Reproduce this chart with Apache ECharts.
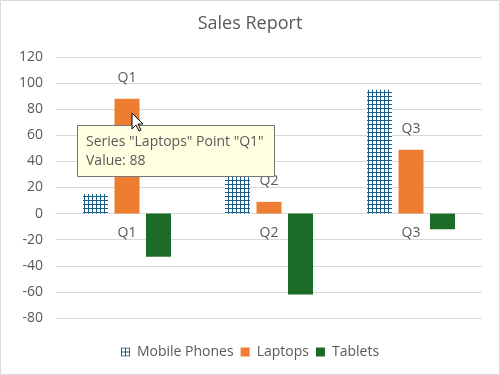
<!DOCTYPE html>
<html>
<head>
<meta charset="utf-8">
<script src="https://cdn.jsdelivr.net/npm/echarts@6/dist/echarts.min.js"></script>
<style>
html,body{margin:0;padding:0;background:#fff;}
#chart{width:500px;height:375px;}
</style>
</head>
<body>
<div id="chart"></div>
<script>
const title = 'Sales Report';
const categories = ['Q1', 'Q2', 'Q3'];
const mobilePhones = [15, 30, 95];
const laptops = [88, 9, 49];
const tablets = [-33, -62, -12];
const yTicks = { min: -80, max: 120, interval: 20 };
const tipSeries = 'Laptops';
const tipIndex = 0;

const FONT = "'Segoe UI', 'Open Sans', sans-serif";
const TEXT = '#595959';
const BLUE = '#1b5f89';
const GRID = { left: 56, right: 18, top: 57, bottom: 57 };
const H = 375, W = 500;
const plotH = H - GRID.top - GRID.bottom;
const zeroOffset = -((0 - yTicks.min) / (yTicks.max - yTicks.min)) * plotH;

function gridPattern() {
  const c = document.createElement('canvas');
  c.width = 4; c.height = 4;
  const g = c.getContext('2d');
  g.fillStyle = '#ffffff';
  g.fillRect(0, 0, 4, 4);
  g.fillStyle = BLUE;
  g.fillRect(0, 0, 1, 4);
  g.fillRect(0, 0, 4, 1);
  return c;
}
const pat = { image: gridPattern(), repeat: 'repeat' };

const chart = echarts.init(document.getElementById('chart'), null, { renderer: 'canvas' });

const tipText = 'Series "' + tipSeries + '" Point "' + categories[tipIndex] + '"\nValue: ' + laptops[tipIndex];

chart.setOption({
  animation: false,
  textStyle: { fontFamily: FONT },
  title: {
    text: title, left: 'center', top: 10,
    textStyle: { fontFamily: FONT, fontSize: 18, fontWeight: 'normal', color: TEXT }
  },
  legend: {
    bottom: 11, left: 'center',
    itemWidth: 9, itemHeight: 9, itemGap: 7,
    textStyle: { fontFamily: FONT, fontSize: 14, color: TEXT, padding: [0, 0, 0, 2] },
    data: [
      { name: 'Mobile Phones', icon: 'rect' },
      { name: 'Laptops', icon: 'rect' },
      { name: 'Tablets', icon: 'rect' }
    ]
  },
  grid: { left: GRID.left, right: GRID.right, top: GRID.top, bottom: GRID.bottom, containLabel: false },
  xAxis: {
    type: 'category', data: categories,
    offset: zeroOffset,
    axisLine: { onZero: false, lineStyle: { color: '#d9d9d9', width: 1 } },
    axisTick: { show: false },
    axisLabel: { color: TEXT, fontSize: 14, fontFamily: FONT, margin: 12 },
    z: 1
  },
  yAxis: {
    type: 'value', min: yTicks.min, max: yTicks.max, interval: yTicks.interval,
    axisLine: { show: false }, axisTick: { show: false },
    axisLabel: { color: TEXT, fontSize: 14, fontFamily: FONT, margin: 13 },
    splitLine: { lineStyle: { color: '#d9d9d9', width: 1 } }
  },
  series: [
    {
      name: 'Mobile Phones', type: 'bar', data: mobilePhones,
      barWidth: 25, barGap: '26%',
      itemStyle: { color: pat }
    },
    {
      name: 'Laptops', type: 'bar', data: laptops,
      barWidth: 25, barGap: '26%',
      itemStyle: { color: '#ed7d31' },
      label: { show: true, position: 'top', distance: 14, formatter: '{b}', color: TEXT, fontSize: 14, fontFamily: FONT }
    },
    {
      name: 'Tablets', type: 'bar', data: tablets,
      barWidth: 25, barGap: '26%',
      itemStyle: { color: '#1c6b27' }
    }
  ],
  graphic: [
    {
      type: 'rect', z: 100, silent: true,
      shape: { x: 0.5, y: 0.5, width: 499, height: 374 },
      style: { fill: 'none', stroke: '#d9d9d9', lineWidth: 1 }
    },
    {
      type: 'rect', z: 200, silent: true,
      shape: { x: 77.5, y: 125.5, width: 197, height: 51 },
      style: { fill: '#ffffe1', stroke: '#767676', lineWidth: 1 }
    },
    {
      type: 'text', z: 201, silent: true, x: 86, y: 133,
      style: { text: tipText, font: '14px ' + FONT, fill: TEXT, lineHeight: 19 }
    },
    {
      type: 'polygon', z: 300, silent: true,
      shape: { points: [[132, 113], [132, 129], [136, 125], [139, 131], [141, 130], [138, 124], [143, 124]] },
      style: { fill: '#ffffff', stroke: '#000000', lineWidth: 1 }
    }
  ]
});
</script>
</body>
</html>
